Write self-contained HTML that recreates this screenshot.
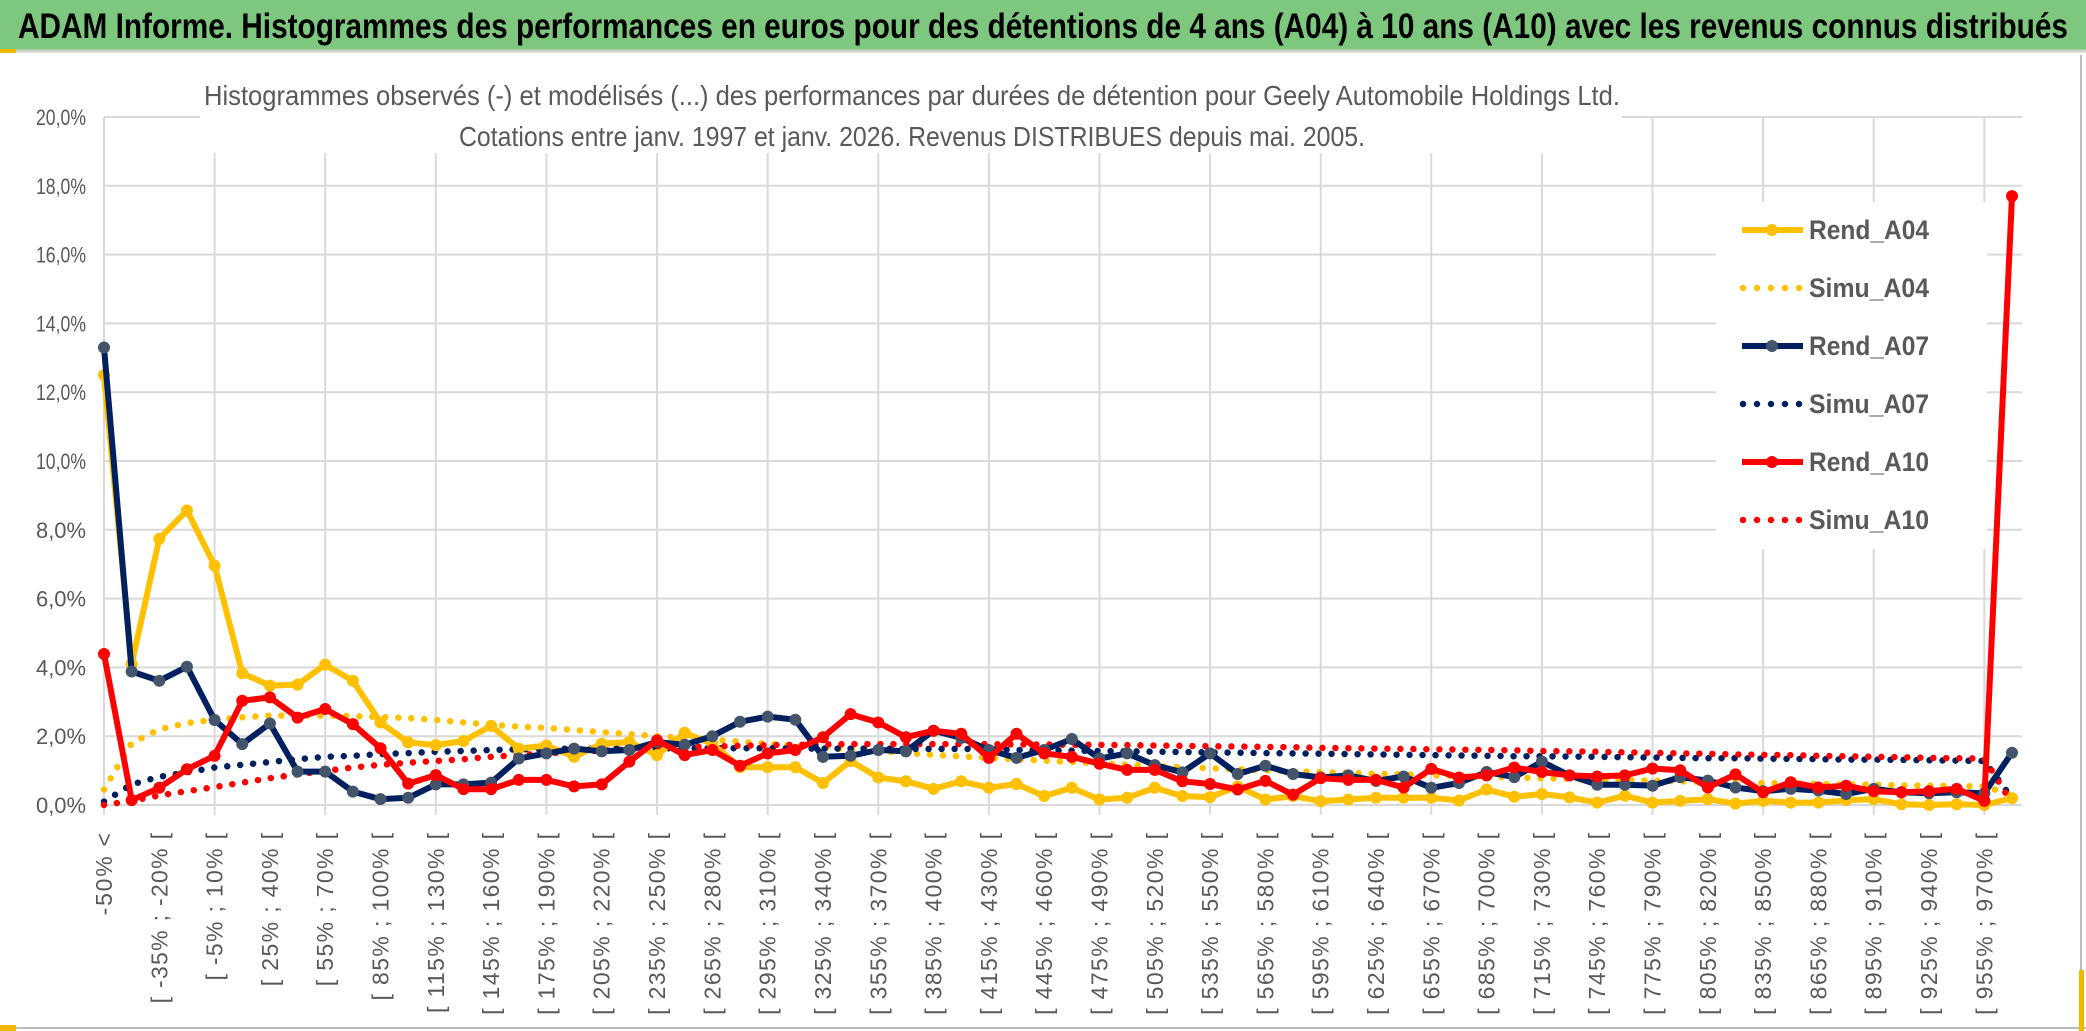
<!DOCTYPE html>
<html><head><meta charset="utf-8">
<style>
html,body{margin:0;padding:0;background:#fff;}
svg{display:block;}
</style></head>
<body>
<svg id="chart" width="2086" height="1031" viewBox="0 0 2086 1031" xmlns="http://www.w3.org/2000/svg" font-family="'Liberation Sans', sans-serif">
  <rect x="0" y="0" width="2086" height="1031" fill="#ffffff"/>
  <rect x="0" y="0" width="2086" height="50" fill="#7dc87e"/>
  <line x1="0" y1="51" x2="2086" y2="51" stroke="#d0d0d0" stroke-width="3"/>
  <rect x="0" y="49" width="16" height="4" fill="#f2b800"/>
  <text x="1043" y="38" text-anchor="middle" font-size="35" font-weight="bold" fill="#000" textLength="2050" lengthAdjust="spacingAndGlyphs">ADAM Informe. Histogrammes des performances en euros pour des détentions de 4 ans (A04) à 10 ans (A10) avec les revenus connus distribués</text>
  <line x1="2081" y1="55" x2="2081" y2="1028" stroke="#bdbdbd" stroke-width="2"/>
  <line x1="0" y1="1028" x2="2086" y2="1028" stroke="#bdbdbd" stroke-width="2"/>
  <rect x="0" y="1025" width="16" height="6" fill="#f2b800"/>
  <rect x="2079" y="970" width="5" height="61" fill="#f2b800"/>
  <g id="grid"></g>
  <g id="yaxis"></g>
  <g id="xaxis"></g>
  <rect x="200" y="60" width="1422" height="93" fill="#fff"/>
  <text x="912" y="105" text-anchor="middle" font-size="28" fill="#595959" textLength="1416" lengthAdjust="spacingAndGlyphs">Histogrammes observés (-) et modélisés (...) des performances par durées de détention pour Geely Automobile Holdings Ltd.</text>
  <text x="912" y="146" text-anchor="middle" font-size="28" fill="#595959" textLength="906" lengthAdjust="spacingAndGlyphs">Cotations entre janv. 1997 et janv. 2026. Revenus DISTRIBUES depuis mai. 2005.</text>
  <rect x="1716" y="202" width="271" height="347" fill="#fff"/>
  <g id="series"></g>
  <g id="legend"></g>
</svg>
<script>
const yTicks = [0,2,4,6,8,10,12,14,16,18,20];
const rendA04 = [12.5,4.1,7.74,8.56,6.96,3.83,3.47,3.5,4.08,3.61,2.4,1.82,1.74,1.86,2.3,1.64,1.73,1.4,1.78,1.83,1.45,2.1,1.78,1.1,1.1,1.1,0.64,1.28,0.8,0.69,0.47,0.69,0.5,0.61,0.26,0.5,0.16,0.21,0.5,0.26,0.23,0.54,0.16,0.26,0.11,0.16,0.21,0.21,0.21,0.13,0.45,0.24,0.32,0.22,0.07,0.27,0.07,0.12,0.17,0.04,0.12,0.07,0.07,0.14,0.17,0.02,0.0,0.02,0.0,0.2];
const simuA04 = [0.45,1.8,2.2,2.38,2.48,2.55,2.6,2.6,2.6,2.58,2.56,2.53,2.47,2.4,2.33,2.28,2.24,2.18,2.12,2.06,2.0,1.95,1.9,1.84,1.78,1.72,1.67,1.62,1.56,1.51,1.46,1.41,1.37,1.33,1.29,1.25,1.21,1.17,1.13,1.1,1.07,1.04,1.01,0.98,0.96,0.93,0.91,0.89,0.86,0.84,0.82,0.8,0.78,0.76,0.74,0.72,0.71,0.69,0.67,0.66,0.64,0.63,0.61,0.6,0.59,0.57,0.56,0.55,0.54,0.3];
const rendA07 = [13.3,3.88,3.61,4.02,2.47,1.77,2.37,0.97,0.97,0.39,0.17,0.21,0.6,0.6,0.65,1.35,1.5,1.64,1.56,1.6,1.83,1.75,2.0,2.42,2.57,2.48,1.4,1.43,1.6,1.56,2.16,1.95,1.6,1.37,1.6,1.92,1.35,1.5,1.16,0.95,1.5,0.9,1.14,0.9,0.8,0.86,0.7,0.83,0.5,0.64,0.96,0.81,1.26,0.86,0.59,0.59,0.56,0.81,0.71,0.51,0.4,0.47,0.42,0.32,0.47,0.37,0.34,0.37,0.34,1.52];
const simuA07 = [0.1,0.6,0.82,0.95,1.09,1.17,1.25,1.33,1.4,1.43,1.48,1.51,1.55,1.57,1.6,1.62,1.63,1.64,1.64,1.65,1.65,1.65,1.65,1.65,1.65,1.64,1.64,1.64,1.64,1.63,1.63,1.63,1.62,1.6,1.59,1.58,1.57,1.56,1.55,1.54,1.53,1.52,1.51,1.5,1.49,1.48,1.47,1.46,1.45,1.44,1.43,1.42,1.42,1.41,1.4,1.39,1.38,1.37,1.36,1.36,1.35,1.34,1.33,1.32,1.32,1.31,1.3,1.29,1.28,0.2];
const rendA10 = [4.39,0.14,0.5,1.04,1.43,3.03,3.13,2.54,2.79,2.35,1.65,0.62,0.87,0.46,0.46,0.73,0.73,0.54,0.6,1.26,1.88,1.45,1.6,1.14,1.5,1.6,1.97,2.64,2.4,1.97,2.16,2.07,1.37,2.07,1.5,1.4,1.2,1.02,1.02,0.69,0.61,0.45,0.7,0.3,0.78,0.73,0.73,0.51,1.05,0.8,0.86,1.09,0.96,0.86,0.83,0.86,1.06,1.01,0.51,0.89,0.37,0.66,0.51,0.56,0.4,0.37,0.4,0.47,0.12,17.7];
const simuA10 = [0.0,0.12,0.28,0.4,0.52,0.65,0.78,0.89,0.99,1.09,1.17,1.23,1.28,1.33,1.4,1.45,1.5,1.54,1.58,1.62,1.65,1.68,1.7,1.72,1.74,1.75,1.76,1.77,1.77,1.77,1.77,1.77,1.77,1.76,1.76,1.75,1.75,1.74,1.73,1.72,1.71,1.7,1.69,1.68,1.66,1.65,1.64,1.63,1.62,1.61,1.6,1.59,1.57,1.56,1.55,1.53,1.52,1.5,1.49,1.47,1.46,1.45,1.43,1.42,1.4,1.39,1.37,1.36,1.35,0.05];
const categories = [];
categories.push('-50% <');
for (let k = 0; k < 68; k++) { categories.push('[ ' + (-50 + 15*k) + '% ; ' + (-35 + 15*k) + '% ['); }
categories.push('970% >');

const NS = 'http://www.w3.org/2000/svg';
const X0 = 104, XN = 2012, Y0 = 805, YTOP = 117;
const n = categories.length;
function xScale(i){ return X0 + (XN - X0) * i / (n - 1); }
function yScale(v){ return Y0 - (Y0 - YTOP) * v / 20; }
function mk(tag, attrs, parent){ const e = document.createElementNS(NS, tag); for (const k in attrs) e.setAttribute(k, attrs[k]); parent.appendChild(e); return e; }

const grid = document.getElementById('grid');
const yaxis = document.getElementById('yaxis');
const xaxis = document.getElementById('xaxis');
const series = document.getElementById('series');
const legend = document.getElementById('legend');

yTicks.forEach(t => {
  const l = mk('line', {x1: X0, x2: 2022, y1: yScale(t), y2: yScale(t), stroke: '#d9d9d9', 'stroke-width': 2}, grid);
  
  
  const tx = mk('text', {x: 86, y: yScale(t) + 8, 'text-anchor': 'end', 'font-size': 22, fill: '#595959', textLength: 50, lengthAdjust: 'spacingAndGlyphs'}, yaxis);
  tx.textContent = t.toFixed(1).replace('.', ',') + '%';
  
  
});
for (let i = 0; i < n; i += 4) {
  const l = mk('line', {x1: xScale(i), x2: xScale(i), y1: YTOP, y2: Y0 + 10, stroke: '#d9d9d9', 'stroke-width': 2}, grid);
  
  
}
for (let i = 0; i < n - 1; i += 2) {
  const x = xScale(i) + 8, y = 833;
  const tx = mk('text', {x: x, y: y, 'text-anchor': 'end', 'font-size': 23, fill: '#595959', transform: 'rotate(-90 ' + x + ' ' + y + ')'}, xaxis);
  tx.textContent = categories[i];
  
  
  const len = tx.getComputedTextLength();
  tx.setAttribute('textLength', (len * 1.12).toFixed(1));
}

function pts(arr){ return arr.map((v, i) => xScale(i).toFixed(1) + ',' + yScale(v).toFixed(1)).join(' '); }
function dotted(arr, color, name){
  const p = mk('polyline', {points: pts(arr), fill: 'none', stroke: color, 'stroke-width': 6.5, 'stroke-linecap': 'round', 'stroke-dasharray': '0 13'}, series);
  
  
}
function solid(arr, color, mcolor, name){
  const g = mk('g', {}, series);
  
  
  mk('polyline', {points: pts(arr), fill: 'none', stroke: color, 'stroke-width': 6, 'stroke-linejoin': 'round'}, g);
  arr.forEach((v, i) => {
    const c = mk('circle', {cx: xScale(i), cy: yScale(v), r: 6, fill: mcolor}, g);
    
    
  });
}
dotted(simuA04, '#ffc000', 'simu-a04-line');
dotted(simuA07, '#002060', 'simu-a07-line');
dotted(simuA10, '#ff0000', 'simu-a10-line');
solid(rendA04, '#ffc000', '#ffc000', 'rend-a04-line');
solid(rendA07, '#002060', '#44546a', 'rend-a07-line');
solid(rendA10, '#ff0000', '#ff0000', 'rend-a10-line');

const legendNames = ['Rend_A04','Simu_A04','Rend_A07','Simu_A07','Rend_A10','Simu_A10'];
const legendColors = ['#ffc000','#ffc000','#002060','#002060','#ff0000','#ff0000'];
const legendMarker = ['#ffc000',null,'#44546a',null,'#ff0000',null];
legendNames.forEach((nm, k) => {
  const y = 230 + k * 58;
  const g = mk('g', {}, legend);
  
  
  if (legendMarker[k]) {
    mk('line', {x1: 1742, x2: 1803, y1: y, y2: y, stroke: legendColors[k], 'stroke-width': 6}, g);
    mk('circle', {cx: 1772, cy: y, r: 6, fill: legendMarker[k]}, g);
  } else {
    mk('line', {x1: 1743, x2: 1803, y1: y, y2: y, stroke: legendColors[k], 'stroke-width': 6.5, 'stroke-linecap': 'round', 'stroke-dasharray': '0 14'}, g);
  }
  const t = mk('text', {x: 1809, y: y + 9, 'font-size': 27, 'font-weight': 'bold', fill: '#595959', textLength: 120, lengthAdjust: 'spacingAndGlyphs'}, g);
  t.textContent = nm;
});
</script>
</body></html>
